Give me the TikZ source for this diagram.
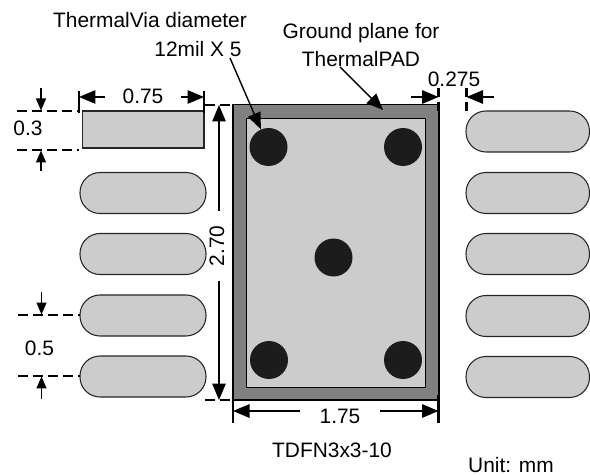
\documentclass[tikz,border=0pt]{standalone}
\usepackage{fontspec}
\setmainfont{Liberation Sans}
\usetikzlibrary{arrows.meta}
\definecolor{padgray}{HTML}{CCCCCC}
\definecolor{planegray}{HTML}{808080}
\definecolor{viablack}{HTML}{1C1C1C}
\tikzset{
    dim/.style={line width=0.8pt,-{Triangle[length=0.33cm,width=0.27cm]}},
    dimsmall/.style={line width=0.8pt,-{Triangle[length=0.24cm,width=0.2cm]}},
    ext/.style={line width=1.3pt,dash pattern=on 0.2cm off 0.1cm},
    tick/.style={line width=1.3pt},
    pin/.style={draw=black!85,line width=0.6pt,fill=padgray,rounded corners=0.4cm},
    via/.style={circle,fill=viablack,inner sep=0pt,minimum size=0.76cm},
    lbl/.style={inner sep=0pt,font=\fontsize{11.9}{14}\selectfont},
}
\begin{document}
\begin{tikzpicture}[x=0.02cm,y=-0.02cm]
    \useasboundingbox (0,0) rectangle (590,475);
    \pgfmathsetmacro {\ph}{41}  %Pin height
    \pgfmathsetmacro {\pw}{126} %Pin width

    %Loop for drawing left pins, first one is square
    \draw[pin,rounded corners=0pt] (82.5,111) rectangle (204,148);
    \foreach \y in {172.5,233.5,295,356} {
        \draw[pin] (80,\y) rectangle ++(\pw,\ph);
    }
    %Loop for drawing right pins
    \foreach \y in {111,172.5,233.5,295.5,356.5} {
        \draw[pin] (466,\y) rectangle ++(123.5,\ph);
    }

    %Draw ground plane and pad
    \draw[line width=0.6pt,fill=planegray] (233,104.5) rectangle (439,400);
    \draw[line width=0.5pt,fill=padgray]   (246.5,118) rectangle (425,387);

    %Draw thermal vias
    \node[via] (viaTL) at (268.5,147) {};
    \node[via] (viaTR) at (403,147)   {};
    \node[via] (viaC)  at (333.5,257.5) {};
    \node[via] (viaBL) at (269,360)   {};
    \node[via] (viaBR) at (403,360)   {};

    %Draw top labels and leaders
    \node[lbl] (vianame)  at (150,20) {ThermalVia diameter};
    \node[lbl] (viasize)  at (198,49) {12mil X 5};
    \node[lbl] (planeone) at (361,33) {Ground plane for};
    \node[lbl] (planetwo) at (361,59) {ThermalPAD};
    \coordinate (viastart)   at (230,58);
    \coordinate (planestart) at (340,67);
    \coordinate (planeend)   at (383,110);
    \draw[dim] (viastart) -- (viaTL);
    \draw[dim] (planestart) -- (planeend);

    %Draw pin length annotation
    \node[lbl] (pinlen) at (143,96) {0.75};
    \draw[tick] (79,91) -- (79,113);
    \draw[tick] (204,91) -- (204,113);
    \draw[dim] (105,97) -- (79,97);
    \draw[dim] (181,97) -- (204,97);

    %Draw pin height annotation
    \node[lbl] (pinhgt) at (28,128) {0.3};
    \draw[ext] (17,111) -- (79,111);
    \draw[ext] (17,150) -- (79,150);
    \draw[dimsmall] (41,88) -- (41,110.5);
    \draw[dimsmall] (41,171) -- (41,150.5);

    %Draw pitch annotation
    \node[lbl] (pitch) at (39.5,348) {0.5};
    \draw[ext] (18,315) -- (80,315);
    \draw[ext] (18,376) -- (80,376);
    \draw[dimsmall] (41.5,292) -- (41.5,314.5);
    \draw[dimsmall] (41.5,399) -- (41.5,376.5);

    %Draw plane height annotation
    \node[lbl,rotate=90] (planehgt) at (217,246) {2.70};
    \draw[ext] (205,105) -- (233,105);
    \draw[ext] (205,400) -- (233,400);
    \draw[dim] (219,211) -- (219,105);
    \draw[dim] (219,281) -- (219,400);

    %Draw plane width annotation
    \node[lbl] (planewid) at (340,416) {1.75};
    \draw[tick] (233,400) -- (233,423);
    \draw[tick] (438.5,395) -- (438.5,423);
    \draw[dim] (300,411) -- (233,411);
    \draw[dim] (380,411) -- (438.5,411);

    %Draw gap annotation
    \node[lbl] (gap) at (454,79) {0.275};
    \draw[tick,dash pattern=on 0.18cm off 0.1cm] (438.5,88) -- (438.5,113);
    \draw[tick,dash pattern=on 0.18cm off 0.1cm] (466.5,88) -- (466.5,112);
    \draw[dim] (411,97) -- (438.5,97);
    \draw[dim] (494,97) -- (466.5,97);

    %Draw bottom labels
    \node[lbl] (part) at (332,450) {TDFN3x3-10};
    \node[lbl] (unit) at (511,465) {Unit: mm};
\end{tikzpicture}
\end{document}
